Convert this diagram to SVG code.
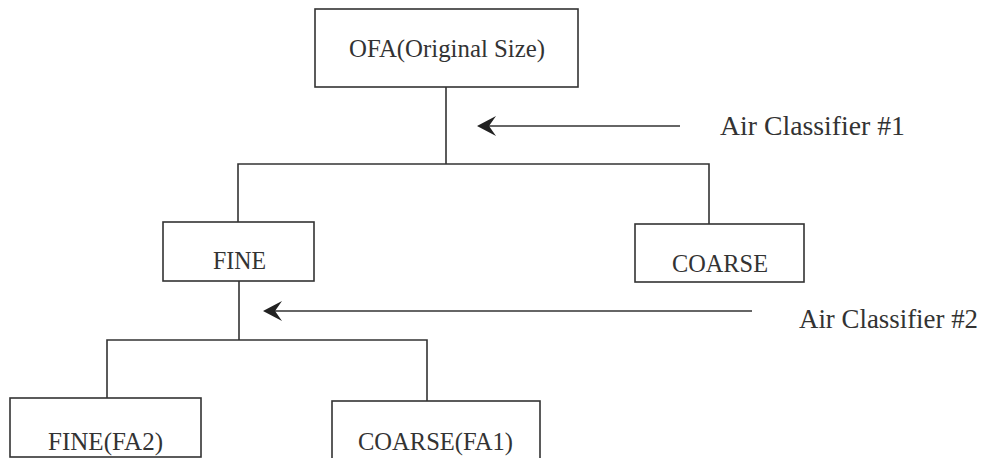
<svg xmlns="http://www.w3.org/2000/svg" width="987" height="458" viewBox="0 0 987 458">
<style>
.box{fill:#fff;stroke:#333;stroke-width:1.6}
.ln{fill:none;stroke:#333;stroke-width:1.6}
.t{font-family:"Liberation Serif","Times New Roman",serif;font-size:26px;fill:#333;text-anchor:middle}
.a{font-family:"Liberation Serif","Times New Roman",serif;font-size:27.5px;fill:#333}
.head{fill:#222}
</style>
<rect width="987" height="458" fill="#fff"/>
<g id="connectors">
<path class="ln" d="M446,87 V164 M238,222 V164 H709 V224"/>
<path class="ln" d="M239,281 V340 M107,398 V340 H427 V401"/>
<path class="ln" d="M488,126 H680"/>
<path class="head" d="M477,126 L496,116 L489,126 L496,136 Z"/>
<path class="ln" d="M273,311 H752"/>
<path class="head" d="M263,311 L282,301 L275,311 L282,321 Z"/>
</g>
<g id="ofa"><rect class="box" x="315" y="9" width="263" height="78"/><text class="t" x="447" y="57" textLength="196" lengthAdjust="spacingAndGlyphs">OFA(Original Size)</text></g>
<g id="fine"><rect class="box" x="163" y="222" width="151" height="59"/><text class="t" x="239.5" y="269" textLength="53" lengthAdjust="spacingAndGlyphs">FINE</text></g>
<g id="coarse"><rect class="box" x="635" y="224" width="169" height="58"/><text class="t" x="720" y="272" textLength="96" lengthAdjust="spacingAndGlyphs">COARSE</text></g>
<g id="fine-fa2"><rect class="box" x="10" y="398" width="191" height="59"/><text class="t" x="105.5" y="450" textLength="115" lengthAdjust="spacingAndGlyphs">FINE(FA2)</text></g>
<g id="coarse-fa1"><rect class="box" x="332" y="401" width="208" height="58"/><text class="t" x="435.5" y="450" textLength="155" lengthAdjust="spacingAndGlyphs">COARSE(FA1)</text></g>
<g id="labels">
<text class="a" x="720" y="135" textLength="185" lengthAdjust="spacingAndGlyphs">Air Classifier #1</text>
<text class="a" x="799" y="328" textLength="179" lengthAdjust="spacingAndGlyphs">Air Classifier #2</text>
</g>
</svg>
